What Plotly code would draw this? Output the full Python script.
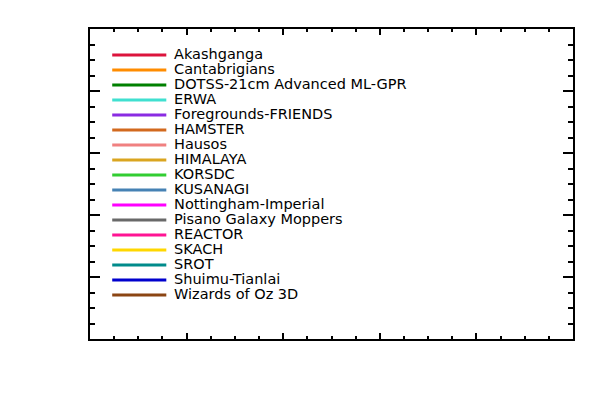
import plotly.graph_objects as go

# legend entries (the chart itself shows only the legend inside empty axes)
teams = ["Akashganga", "Cantabrigians", "DOTSS-21cm Advanced ML-GPR", "ERWA",
         "Foregrounds-FRIENDS", "HAMSTER", "Hausos", "HIMALAYA", "KORSDC",
         "KUSANAGI", "Nottingham-Imperial", "Pisano Galaxy Moppers", "REACTOR",
         "SKACH", "SROT", "Shuimu-Tianlai", "Wizards of Oz 3D"]
team_colors = ["#DC143C", "#FF8C00", "#008000", "#40E0D0", "#8A2BE2", "#D2691E",
               "#F08080", "#DAA520", "#32CD32", "#4682B4", "#FF00FF", "#696969",
               "#FF1493", "#FFD700", "#008B8B", "#0000CD", "#8B4513"]

# empty data axes
x_range = [0, 5]
y_range = [0, 5]

# legend layout (in legend-axis units)
LINE_X = [0.046, 0.158]
TEXT_X = 0.174
ROW_PX = 15.0
PLOT_H = 310.0
FIRST_ROW_OFFSET = 26.0

fig = go.Figure()

# empty trace so the main axes get drawn
fig.add_trace(go.Scatter(x=[], y=[], mode="lines", showlegend=False))

for i, (name, col) in enumerate(zip(teams, team_colors)):
    fig.add_trace(go.Scatter(
        x=LINE_X, y=[i, i], mode="lines",
        line=dict(color=col, width=3),
        xaxis="x2", yaxis="y2", hoverinfo="skip", showlegend=False,
    ))

fig.add_trace(go.Scatter(
    x=[TEXT_X] * len(teams), y=list(range(len(teams))), mode="text",
    text=teams, textposition="middle right",
    textfont=dict(family="DejaVu Sans", size=14.5, color="black"),
    xaxis="x2", yaxis="y2", hoverinfo="skip", showlegend=False,
))

top = -FIRST_ROW_OFFSET / ROW_PX
fig.update_layout(
    width=600, height=400,
    # page body adds an 8px offset, margins compensate for it
    margin=dict(l=82, r=35, t=21, b=69),
    paper_bgcolor="white", plot_bgcolor="white",
    showlegend=False,
    xaxis=dict(range=x_range, dtick=1, showticklabels=False, showgrid=False,
               zeroline=False, showline=True, linecolor="black", linewidth=1.5,
               mirror="ticks", ticks="inside", ticklen=6, tickwidth=1.5,
               tickcolor="black",
               minor=dict(dtick=0.25, ticks="inside", ticklen=3, tickwidth=1.5,
                          tickcolor="black", showgrid=False)),
    yaxis=dict(range=y_range, dtick=1, showticklabels=False, showgrid=False,
               zeroline=False, showline=True, linecolor="black", linewidth=1.5,
               mirror="ticks", ticks="inside", ticklen=10, tickwidth=1.5,
               tickcolor="black",
               minor=dict(dtick=0.25, ticks="inside", ticklen=5, tickwidth=1.5,
                          tickcolor="black", showgrid=False)),
    xaxis2=dict(overlaying="x", range=[0, 1], visible=False),
    yaxis2=dict(overlaying="y", range=[top + PLOT_H / ROW_PX, top], visible=False),
)

fig.write_html("out.html")
